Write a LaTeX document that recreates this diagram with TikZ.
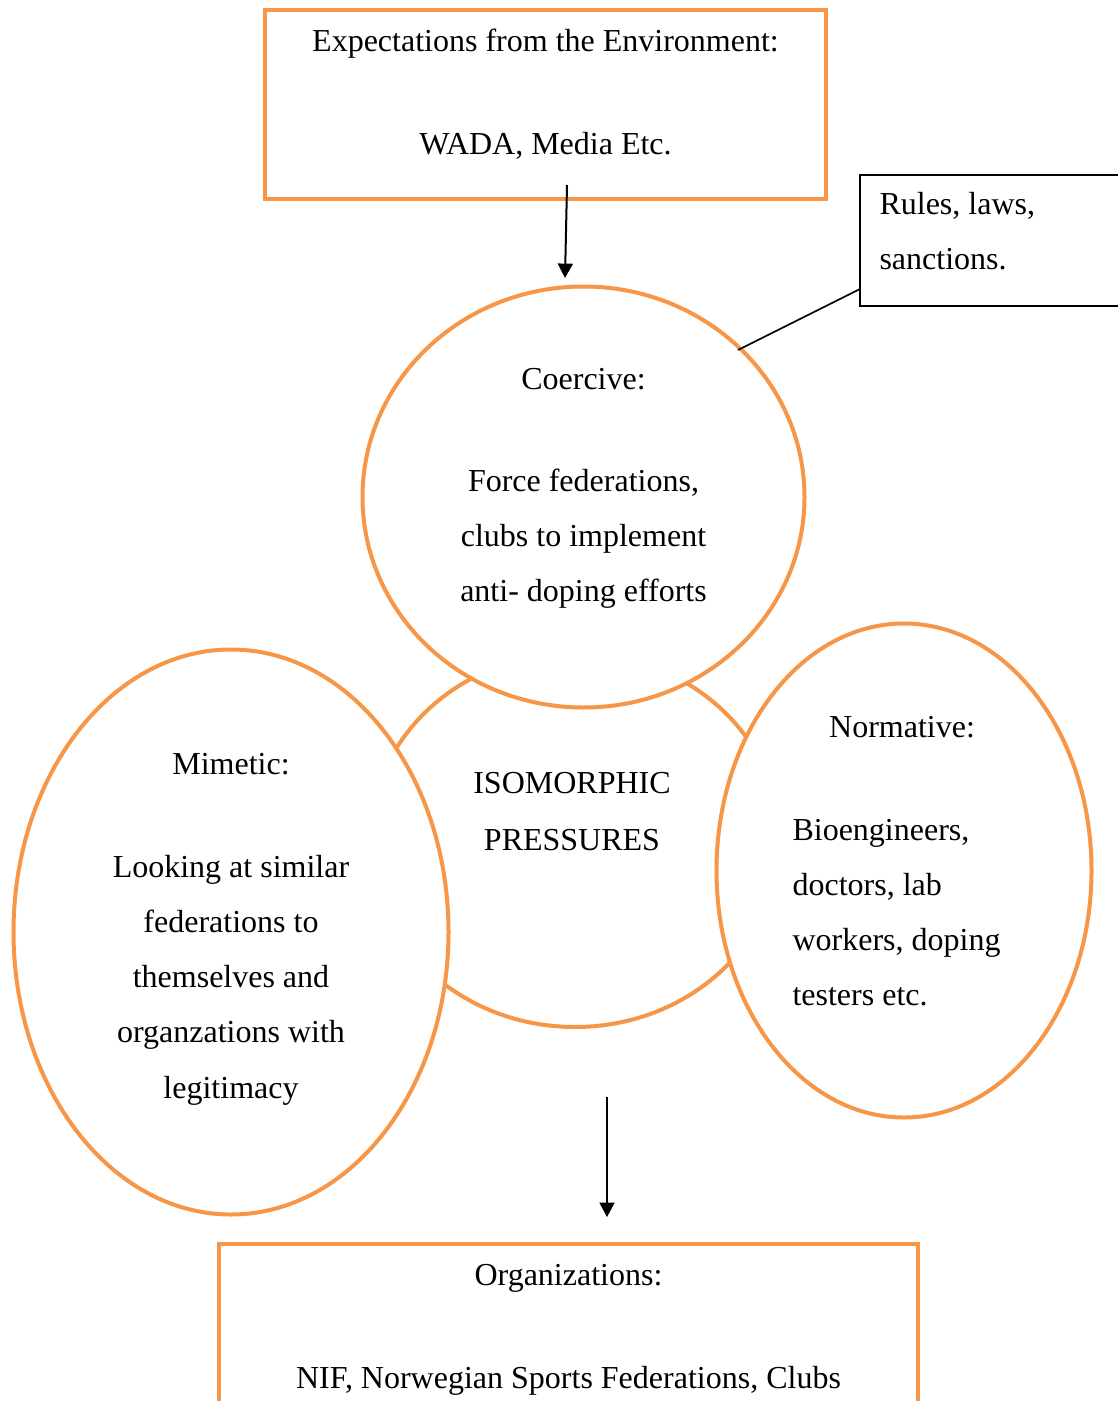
\documentclass[tikz,border=0pt]{standalone}
\usepackage{fontspec}
\setmainfont{Liberation Serif}
\usepackage{tikz}
\usetikzlibrary{arrows.meta,shapes.geometric}
\definecolor{pressure}{RGB}{247,150,70}
\newcommand{\pxu}{0.375pt}

\begin{document}
\begin{tikzpicture}[x=\pxu, y=-\pxu,
    txt/.style={font=\fontsize{12}{20.7}\selectfont, inner sep=0pt},
    orangebox/.style={rectangle, draw=pressure, line width=1.5pt, inner sep=0pt},
    ring/.style={ellipse, draw=pressure, fill=white, line width=1.5pt, inner sep=0pt},
    arrowline/.style={line width=0.75pt, -{Triangle[width=5.6pt,length=5.4pt]}}]
    \useasboundingbox (0,0) rectangle (1118,1401);

    % Central ring (the three others are drawn over it)
    \node[ring, minimum width=410*\pxu, minimum height=374*\pxu] (iso) at (575,840) {};
    \node[txt, align=center, anchor=north] (isotxt) at (572,754.5) {\strut ISOMORPHIC\\[0.7pt]PRESSURES};

    % Coercive
    \node[ring, minimum width=442*\pxu, minimum height=421*\pxu] (coercive) at (583.5,497) {};
    \node[txt, align=center, anchor=north] (coercivetxt) at (583.5,350.2)
        {\strut Coercive:\\[17.6pt]Force federations,\\clubs to implement\\anti- doping efforts};

    % Mimetic
    \node[ring, minimum width=435*\pxu, minimum height=565*\pxu] (mimetic) at (231,932) {};
    \node[txt, align=center, anchor=north] (mimetictxt) at (231,735.2)
        {\strut Mimetic:\\[17.9pt]Looking at similar\\federations to\\themselves and\\organzations with\\legitimacy};

    % Normative
    \node[ring, minimum width=375*\pxu, minimum height=494*\pxu] (normative) at (904,870.5) {};
    \node[txt, anchor=north] (normhead) at (902,698.2) {\strut Normative:};
    \node[txt, align=left, anchor=north west] (normtxt) at (792,801.2)
        {\strut Bioengineers,\\doctors, lab\\workers, doping\\testers etc.};

    % Environment box
    \node[orangebox, minimum width=561*\pxu, minimum height=189*\pxu] (env) at (545.5,104.5) {};
    \node[txt, align=center, anchor=north] (envtxt) at (545.5,12)
        {\strut Expectations from the Environment:\\[17.9pt]WADA, Media Etc.};
    \coordinate (envout) at (567,185);
    \coordinate (coercivein) at (565,278);
    \draw[arrowline] (envout) -- (coercivein);

    % Rules note
    \node[rectangle, draw, line width=0.6pt, inner sep=0pt,
          minimum width=290*\pxu, minimum height=131*\pxu] (rules) at (1005,240.5) {};
    \node[txt, align=left, anchor=north west] (rulestxt) at (879,175) {\strut Rules, laws,\\sanctions.};
    \coordinate (rulesfoot) at (860,289);
    \coordinate (coerciveedge) at (738,350);
    \draw[line width=0.6pt] (rulesfoot) -- (coerciveedge);

    % Organizations box
    \coordinate (isoout) at (607,1097);
    \coordinate (orgin) at (607,1217);
    \draw[arrowline] (isoout) -- (orgin);
    \node[orangebox, minimum width=699*\pxu, minimum height=200*\pxu] (org) at (568.5,1344) {};
    \node[txt, align=center, anchor=north] (orgtxt) at (568.5,1246)
        {\strut Organizations:\\[17.9pt]NIF, Norwegian Sports Federations, Clubs};
\end{tikzpicture}
\end{document}
